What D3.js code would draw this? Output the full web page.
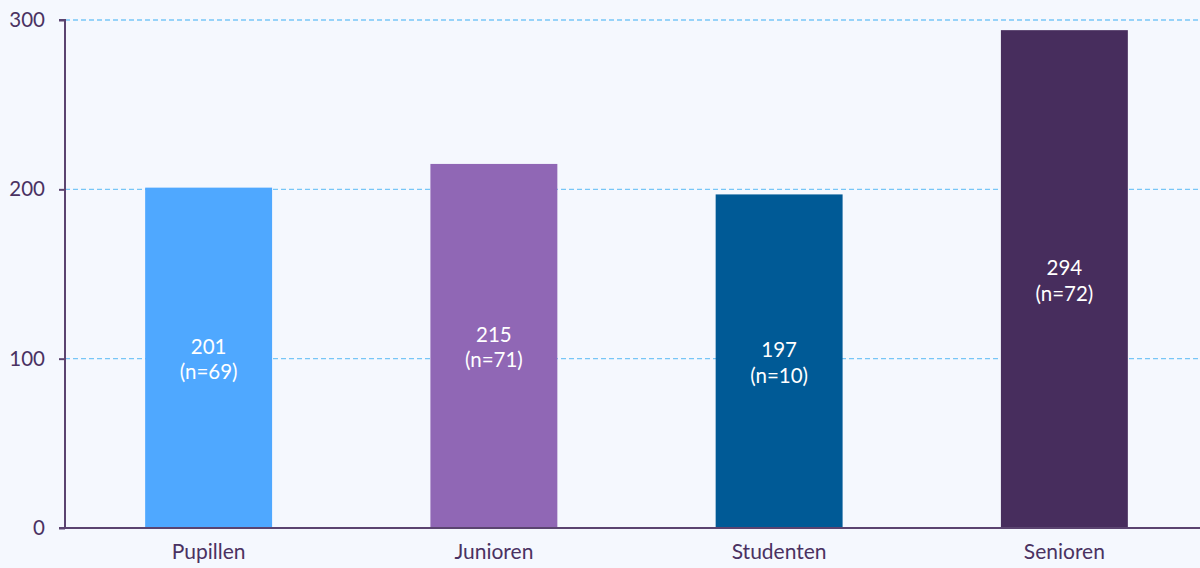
<!DOCTYPE html>
<html>
<head>
<meta charset="utf-8">
<script src="https://cdn.jsdelivr.net/npm/d3@7"></script>
<style>
  html, body { margin: 0; padding: 0; background: #f5f8fe; }
  svg { display: block; font-family: Lato, "Open Sans", sans-serif; }
</style>
</head>
<body>
<svg id="chart" width="1200" height="568"></svg>
<script>
// chart data
const categories = ["Pupillen", "Junioren", "Studenten", "Senioren"];
const values = [201, 215, 197, 294];
const counts = [69, 71, 10, 72];
const colors = ["#4fa8ff", "#9067b5", "#005a96", "#472d5d"];
const yTicks = [0, 100, 200, 300];

const svg = d3.select("#chart");
const textColor = "#4a3262";
const axisColor = "#5b4470";

const x = d3.scaleBand()
    .domain(categories)
    .range([66, 1207])
    .paddingInner(0.555)
    .paddingOuter(0.2775);

const y = d3.scaleLinear().domain([0, 300]).range([528, 20]);

// gridlines
svg.append("g")
    .selectAll("line")
    .data(yTicks.filter(d => d > 0))
    .join("line")
    .attr("x1", 65).attr("x2", 1200)
    .attr("y1", d => y(d)).attr("y2", d => y(d))
    .attr("stroke", "#78c6f7")
    .attr("stroke-width", 1.3)
    .attr("stroke-dasharray", "5,3");

// bars
svg.append("g")
    .selectAll("rect")
    .data(values)
    .join("rect")
    .attr("x", (d, i) => x(categories[i]))
    .attr("y", d => y(d))
    .attr("width", x.bandwidth())
    .attr("height", d => y(0) - y(d))
    .attr("fill", (d, i) => colors[i]);

// bar labels
const labels = svg.append("g")
    .selectAll("text")
    .data(values)
    .join("text")
    .attr("x", (d, i) => x(categories[i]) + x.bandwidth() / 2)
    .attr("y", d => (y(d) + y(0)) / 2)
    .attr("text-anchor", "middle")
    .attr("fill", "#ffffff")
    .attr("font-size", 20.5);
labels.append("tspan")
    .attr("x", (d, i) => x(categories[i]) + x.bandwidth() / 2)
    .attr("dy", "-0.2em")
    .text(d => d);
labels.append("tspan")
    .attr("x", (d, i) => x(categories[i]) + x.bandwidth() / 2)
    .attr("dy", "1.25em")
    .text((d, i) => `(n=${counts[i]})`);

// y axis
const yAxis = svg.append("g")
    .attr("transform", "translate(65,0)")
    .call(d3.axisLeft(y).tickValues(yTicks).tickSize(6).tickPadding(14));
yAxis.select(".domain").attr("stroke", axisColor).attr("stroke-width", 2)
    .attr("d", "M-6,20H0V528");
yAxis.selectAll(".tick line").attr("stroke", axisColor).attr("stroke-width", 2);
yAxis.selectAll(".tick text").attr("fill", textColor).attr("font-size", 20.5)
    .attr("font-family", "Lato, sans-serif");

// x axis
const xAxis = svg.append("g")
    .attr("transform", "translate(0,528)")
    .call(d3.axisBottom(x).tickSize(0).tickPadding(16));
xAxis.select(".domain").attr("stroke", axisColor).attr("stroke-width", 2)
    .attr("d", "M59,0H1200");
xAxis.selectAll(".tick text").attr("fill", textColor).attr("font-size", 21)
    .attr("font-family", "Lato, sans-serif");
</script>
</body>
</html>
